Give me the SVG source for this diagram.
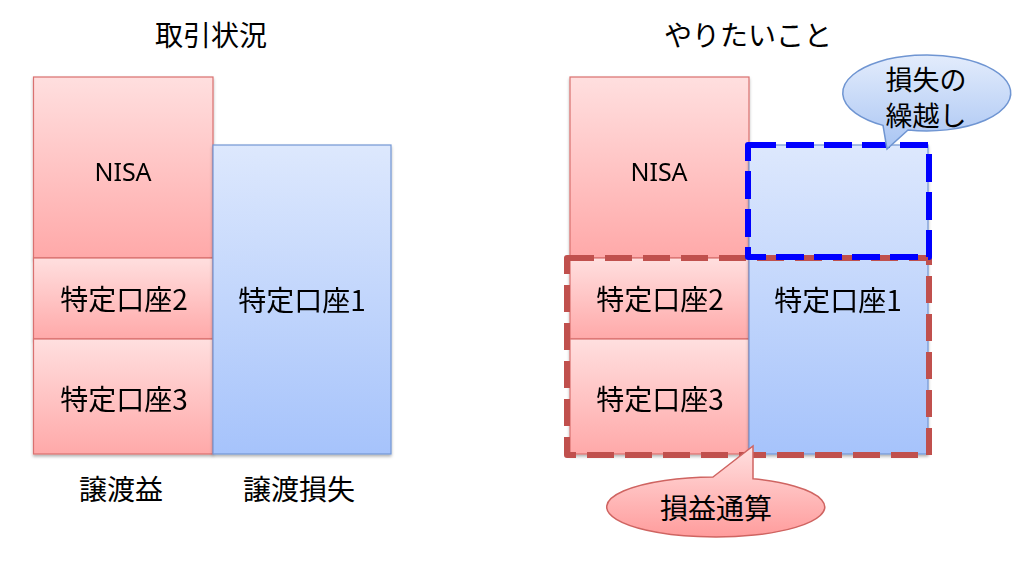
<svg xmlns="http://www.w3.org/2000/svg" width="1024" height="561" viewBox="0 0 1024 561">
<style>
text{font-family:"Noto Sans CJK JP","Noto Sans",sans-serif;font-size:28px;fill:#000;text-anchor:middle}
.lat{font-family:"Noto Sans","Noto Sans CJK JP",sans-serif;font-size:25px}
.cl{font-size:27px}
.pink{fill:url(#gp);stroke:#d9716f;stroke-width:1.2}
.blue{fill:url(#gb);stroke:#7397d4;stroke-width:1.2}
.bdash{fill:none;stroke:#0000ff;stroke-width:6;stroke-dasharray:28 10;stroke-linejoin:round}
.rdash{fill:none;stroke:#c0504d;stroke-width:6;stroke-dasharray:27 11;stroke-linejoin:round}
.sh{filter:url(#shadow)}
</style>
<defs>
<linearGradient id="gp" x1="0" y1="0" x2="0" y2="1">
<stop offset="0" stop-color="#ffdfdf"/>
<stop offset="1" stop-color="#ffa9a9"/>
</linearGradient>
<linearGradient id="gb" x1="0" y1="0" x2="0" y2="1">
<stop offset="0" stop-color="#dde8fd"/>
<stop offset="1" stop-color="#a6c3fb"/>
</linearGradient>
<linearGradient id="cb" x1="0" y1="0" x2="0" y2="1">
<stop offset="0" stop-color="#e3ecfc"/>
<stop offset="1" stop-color="#a9c5f3"/>
</linearGradient>
<linearGradient id="cp" x1="0" y1="0" x2="0" y2="1">
<stop offset="0" stop-color="#ffe0e0"/>
<stop offset="1" stop-color="#ff9c9c"/>
</linearGradient>
<filter id="shadow" x="-10%" y="-10%" width="120%" height="125%">
<feDropShadow dx="0" dy="2" stdDeviation="1.5" flood-color="#000" flood-opacity="0.3"/>
</filter>
</defs>
<g id="titles">
<text x="211" y="46">取引状況</text>
<text x="748" y="46">やりたいこと</text>
</g>
<g id="left-nisa" class="sh"><rect class="pink" x="33.5" y="77" width="179.5" height="181"/><text class="lat" x="123" y="181">NISA</text></g>
<g id="left-tokutei2" class="sh"><rect class="pink" x="33.5" y="258" width="179.5" height="81"/><text x="124" y="310">特定口座2</text></g>
<g id="left-tokutei3" class="sh"><rect class="pink" x="33.5" y="339" width="179.5" height="115"/><text x="124" y="410">特定口座3</text></g>
<g id="left-tokutei1" class="sh"><rect class="blue" x="213" y="145" width="178" height="309"/><text x="302" y="311">特定口座1</text></g>
<g id="labels">
<text x="121" y="500">譲渡益</text>
<text x="299" y="500">譲渡損失</text>
</g>
<g id="right-nisa" class="sh"><rect class="pink" x="570" y="77" width="179" height="181"/><text class="lat" x="659" y="181">NISA</text></g>
<g id="right-tokutei2" class="sh"><rect class="pink" x="570" y="258" width="179" height="81"/><text x="660" y="310">特定口座2</text></g>
<g id="right-tokutei3" class="sh"><rect class="pink" x="570" y="339" width="179" height="115"/><text x="660" y="410">特定口座3</text></g>
<g id="right-tokutei1" class="sh"><rect class="blue" x="749" y="145" width="179" height="309"/><text x="838" y="311">特定口座1</text></g>
<g id="connectors">
<path id="netting-area" class="rdash" d="M567,258 H929 V455 H567 Z"/>
<path id="carry-area" class="bdash" d="M748,145 H929 V257 H748 Z"/>
</g>
<g id="callout-carry">
<path d="M883,125.4 L887,149 L908,130 A84 38 0 1 0 883,125.4 Z" fill="url(#cb)" stroke="#6f95d2" stroke-width="1.5"/>
<text class="cl" x="926" y="90">損失の</text>
<text class="cl" x="926" y="126">繰越し</text>
</g>
<g id="callout-netting">
<path d="M713,477 L753,446 L753,478.8 A109 30 0 1 1 713,477 Z" fill="url(#cp)" stroke="#cf6461" stroke-width="1.5"/>
<text x="716" y="519">損益通算</text>
</g>
</svg>
